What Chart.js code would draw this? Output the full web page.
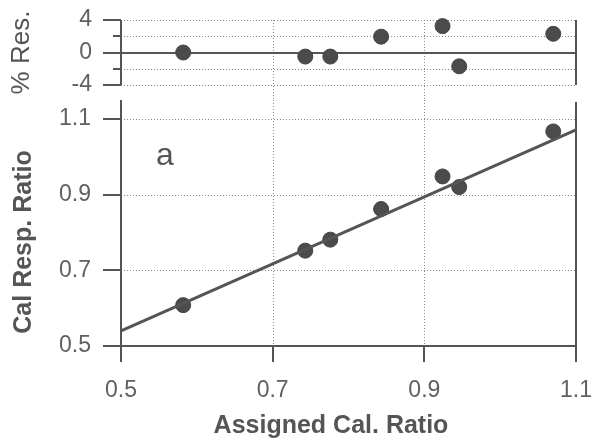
<!DOCTYPE html>
<html>
<head>
<meta charset="utf-8">
<script src="https://cdn.jsdelivr.net/npm/chart.js@4/dist/chart.umd.min.js"></script>
<style>
  html, body { margin: 0; padding: 0; background: #fff; }
  #wrap { position: relative; width: 592px; height: 438px; }
  #wrap canvas { position: absolute; left: 0; top: 0; }
</style>
</head>
<body>
<div id="wrap">
  <canvas id="calChart" width="592" height="438"></canvas>
  <canvas id="resChart" width="592" height="100"></canvas>
</div>
<script>
// calibration standards
const assigned = [0.582, 0.743, 0.776, 0.843, 0.924, 0.946, 1.070];
const response = [0.608, 0.752, 0.781, 0.862, 0.948, 0.920, 1.067];
const residual = [0.0, -0.5, -0.5, 1.95, 3.25, -1.7, 2.3];

// fitted calibration line
const fitX = [0.5, 1.1];
const fitY = [0.540, 1.071];

const ratioTicks = [0.5, 0.7, 0.9, 1.1];
const resTicks = [-4, 0, 4];
const resMinorTicks = [-2, 2];

const FONT = "'Liberation Sans', Arial, sans-serif";
const INK = '#555';
const LABEL = '#606060';
const DOT = '#4b4b4b';

// spines, tick marks and dotted grid, placed through the chart's scales
const framePlugin = {
    id: 'frame',
    beforeDatasetsDraw(chart, args, opts) {
        const { ctx, chartArea: a, scales: { x, y } } = chart;
        const px = v => Math.round(x.getPixelForValue(v));
        const py = v => Math.round(y.getPixelForValue(v));
        ctx.save();

        ctx.strokeStyle = '#8a8a8a';
        ctx.lineWidth = 1;
        ctx.setLineDash([1, 2]);
        ctx.beginPath();
        opts.hGrid.forEach(v => {
            ctx.moveTo(a.left, py(v) + 0.5);
            ctx.lineTo(a.right, py(v) + 0.5);
        });
        const vBottom = opts.gridToCanvasBottom ? chart.height : a.bottom;
        opts.vGrid.forEach(v => {
            ctx.moveTo(px(v) + 0.5, a.top);
            ctx.lineTo(px(v) + 0.5, vBottom);
        });
        ctx.stroke();
        ctx.setLineDash([]);

        ctx.strokeStyle = INK;
        ctx.lineWidth = 2;
        ctx.beginPath();
        // left and right spines
        ctx.moveTo(a.left, a.top);
        ctx.lineTo(a.left, a.bottom);
        ctx.moveTo(a.right, a.top + (opts.rightInset || 0));
        ctx.lineTo(a.right, a.bottom);
        // solid horizontal reaching out past the left spine
        if (opts.baseline !== undefined) {
            ctx.moveTo(a.left - 18, py(opts.baseline));
            ctx.lineTo(a.right, py(opts.baseline));
        }
        opts.yTicks.forEach(t => {
            ctx.moveTo(a.left - t.len, py(t.v));
            ctx.lineTo(a.left, py(t.v));
        });
        (opts.xTicks || []).forEach(v => {
            ctx.moveTo(px(v), a.bottom);
            ctx.lineTo(px(v), a.bottom + 16);
        });
        ctx.stroke();
        ctx.restore();
    }
};

// free text: panel letter and the lower panel's axis captions
const captionPlugin = {
    id: 'captions',
    afterDraw(chart, args, opts) {
        const { ctx, scales: { x, y } } = chart;
        ctx.save();
        ctx.fillStyle = INK;
        (opts.items || []).forEach(it => {
            ctx.save();
            ctx.font = it.font;
            ctx.textAlign = 'center';
            ctx.textBaseline = it.baseline || 'alphabetic';
            const cx = it.xv !== undefined ? x.getPixelForValue(it.xv) : it.x;
            const cy = it.yv !== undefined ? y.getPixelForValue(it.yv) : it.y;
            ctx.translate(cx, cy);
            if (it.rotate) ctx.rotate(it.rotate);
            ctx.fillText(it.text, 0, 0);
            ctx.restore();
        });
        ctx.restore();
    }
};

const pointStyle = {
    pointRadius: 7.5,
    pointBackgroundColor: DOT,
    pointBorderColor: '#444',
    pointBorderWidth: 1,
    showLine: false,
    clip: false
};

const tickFont = { family: FONT, size: 23 };
const fixedTicks = vals => s => { s.ticks = vals.map(v => ({ value: v })); };
// pin the plot box: no label overhang padding, fixed axis thickness
const pinX = h => s => { s.height = h; s.paddingLeft = 0; s.paddingRight = 0; };
const pinY = w => s => { s.width = w; s.paddingTop = 0; s.paddingBottom = 0; };

// lower panel: response ratio vs assigned ratio
new Chart(document.getElementById('calChart'), {
    type: 'scatter',
    data: {
        datasets: [
            {
                label: 'fit',
                type: 'line',
                data: fitX.map((v, i) => ({ x: v, y: fitY[i] })),
                borderColor: INK,
                borderWidth: 3,
                pointRadius: 0,
                clip: false
            },
            {
                label: 'standards',
                data: assigned.map((v, i) => ({ x: v, y: response[i] })),
                ...pointStyle
            }
        ]
    },
    options: {
        responsive: false,
        animation: false,
        layout: { padding: { top: 100, right: 16, left: 0, bottom: 0 } },
        plugins: {
            legend: { display: false },
            tooltip: { enabled: false },
            frame: {
                hGrid: [0.7, 0.9, 1.1],
                vGrid: [0.7, 0.9],
                baseline: 0.5,
                yTicks: [0.7, 0.9, 1.1].map(v => ({ v, len: 18 })),
                xTicks: ratioTicks,
                rightInset: 2
            },
            captions: {
                items: [
                    { text: 'a', font: `32px ${FONT}`, xv: 0.558, yv: 0.979 },
                    { text: 'Assigned Cal. Ratio', font: `bold 25px ${FONT}`, x: 331, y: 433 },
                    { text: 'Cal Resp. Ratio', font: `bold 25px ${FONT}`, x: 24, y: 242,
                      baseline: 'middle', rotate: -Math.PI / 2 }
                ]
            }
        },
        scales: {
            x: {
                type: 'linear',
                min: 0.5,
                max: 1.1,
                afterBuildTicks: fixedTicks(ratioTicks),
                afterFit: pinX(92),
                grid: { display: false, drawTicks: false },
                border: { display: false },
                ticks: { font: tickFont, color: LABEL, padding: 31, maxRotation: 0, callback: v => v.toFixed(1) }
            },
            y: {
                min: 0.5,
                max: 1.15,
                afterBuildTicks: fixedTicks(ratioTicks),
                afterFit: pinY(121),
                grid: { display: false, drawTicks: false },
                border: { display: false },
                ticks: { font: tickFont, color: LABEL, padding: 30, callback: v => v.toFixed(1) }
            }
        }
    },
    plugins: [framePlugin, captionPlugin]
});

// upper panel: percent residuals
new Chart(document.getElementById('resChart'), {
    type: 'scatter',
    data: {
        datasets: [{
            label: 'residual',
            data: assigned.map((v, i) => ({ x: v, y: residual[i] })),
            ...pointStyle
        }]
    },
    options: {
        responsive: false,
        animation: false,
        layout: { padding: { top: 20, right: 16, left: 0, bottom: 15 } },
        plugins: {
            legend: { display: false },
            tooltip: { enabled: false },
            frame: {
                hGrid: [4, 2, -2, -4],
                vGrid: [0.7, 0.9],
                gridToCanvasBottom: true,
                baseline: 0,
                yTicks: resTicks.map(v => ({ v, len: 18 }))
                    .concat(resMinorTicks.map(v => ({ v, len: 8 })))
            }
        },
        scales: {
            x: { type: 'linear', min: 0.5, max: 1.1, display: false, afterFit: pinX(0) },
            y: {
                min: -4,
                max: 4,
                afterBuildTicks: fixedTicks(resTicks),
                afterFit: pinY(121),
                grid: { display: false, drawTicks: false },
                border: { display: false },
                ticks: { font: tickFont, color: LABEL, padding: 29 },
                title: {
                    display: true,
                    text: '% Res.',
                    font: { family: FONT, size: 26 },
                    color: INK,
                    padding: { top: 6, bottom: 0 }
                }
            }
        }
    },
    plugins: [framePlugin]
});
</script>
</body>
</html>
